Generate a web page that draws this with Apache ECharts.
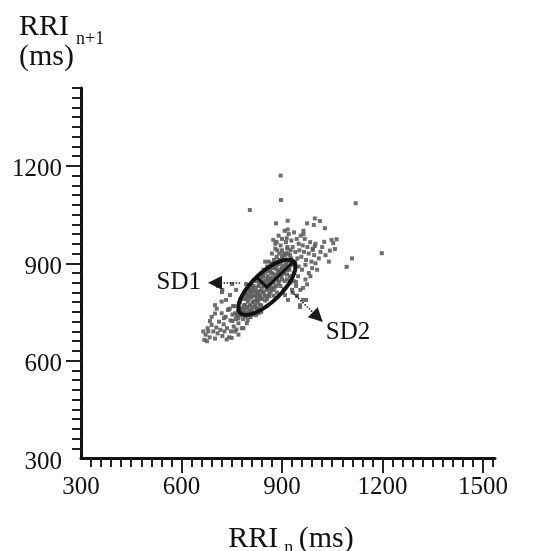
<!DOCTYPE html>
<html>
<head>
<meta charset="utf-8">
<script src="https://cdn.jsdelivr.net/npm/echarts@6/dist/echarts.min.js"></script>
<style>
  html, body { margin: 0; padding: 0; background: #fff; }
  #chart { width: 542px; height: 551px; }
</style>
</head>
<body>
<div id="chart"></div>
<script>
// axis ranges and tick labels
const xMin = 300, xMax = 1536
const yMin = 300, yMax = 1440
const tickStep = 30
const xTickLabels = [300, 600, 900, 1200, 1500]
const yTickLabels = [300, 600, 900, 1200]
const xMajorTicks = [600, 900, 1200, 1500]
const yMajorTicks = [600, 900, 1200]

// RRI(n), RRI(n+1) pairs (ms)
const tailPoints = [
  [668,664],[672,680],[678,700],[684,672],[690,710],[695,690],[700,668],[704,702],[708,684],[712,720],
  [716,695],[720,746],[722,676],[726,712],[728,690],[732,735],[736,700],[740,758],[742,672],[746,724],
  [748,690],[752,742],[756,705],[758,768],[762,728],[764,696],[768,752],[770,715],[774,780],[776,740],
  [780,700],[720,782],[722,818],[744,760],[760,746],[770,680],[785,700],[795,715],[760,690],[750,670],
  [735,665],[690,735],[700,745],[705,760],[685,722],[680,690],[665,690],[676,660]
]
const lowerPoints = [
  [782,760],[784,728],[786,790],[788,748],[790,772],[792,736],[794,805],[796,760],[798,782],[800,745],
  [802,815],[804,770],[806,734],[808,795],[810,758],[812,780],[814,822],[816,748],[818,800],[820,770],
  [822,740],[824,812],[826,786],[828,760],[830,830],[832,798],[834,772],[836,815],[838,750],[840,840],
  [786,770],[792,790],[798,725],[806,808],[812,742],[818,784],[824,762],[830,746],[770,730],[776,762],
  [764,740],[752,722],[810,825],[800,800],[796,740],[822,800],[834,790],[828,812],[790,810],[804,752]
]
const leftPoints = [
  [709,830],[721,811],[733,787],[745,802],[754,768],[763,818],[775,787],[784,756],[793,799],[739,756],
  [769,741],[727,731],[751,836],[793,836],[805,818],[700,771]
]
const corePoints = [
  [842,812],[844,858],[846,830],[848,800],[850,872],[852,845],[854,818],[856,890],[858,860],[860,835],
  [862,805],[864,880],[866,850],[868,900],[870,825],[872,868],[874,842],[876,910],[878,885],[880,855],
  [882,830],[884,920],[886,895],[888,870],[890,845],[892,930],[894,905],[896,880],[898,860],[900,940],
  [902,915],[904,890],[906,868],[908,845],[910,925],[912,900],[914,878],[916,950],[918,930],[920,905],
  [922,882],[924,860],[926,940],[928,915],[930,895],[845,880],[855,790],[865,820],[875,800],[885,810],
  [895,830],[905,820],[915,850],[925,840],[935,870],[860,905],[870,930],[880,945],[850,905],[840,870],
  [800,790],[810,800],[820,815],[830,805],[840,825],[850,835],[860,845],[870,855],[880,865],[890,875],
  [900,885],[910,895],[905,870],[895,860],[885,850],[875,840],[865,830],[855,820],[845,810],[835,800],
  [825,790],[815,780],[805,770],[795,765],[815,830],[825,845],[835,855],[845,862],[860,875],[870,885],
  [880,897],[890,910],[900,920],[912,930],[920,880],[915,865],[900,850],[890,838],[878,825],[866,812],
  [852,800],[840,790],[828,778],[816,765],[806,755],[798,748],[842,845],[856,852],[868,870],[884,882],
  [896,898],[874,818],[862,798],[850,785],[838,770],[826,755],[812,812],[822,825],[832,838],[818,848],
  [808,835]
]
const upperPoints = [
  [880,960],[886,940],[890,985],[896,955],[900,975],[904,930],[908,1000],[912,965],[916,945],[920,990],
  [924,925],[928,970],[932,950],[936,995],[940,935],[944,975],[946,915],[950,960],[952,940],[956,985],
  [958,920],[962,955],[966,935],[968,975],[972,910],[976,950],[980,930],[984,965],[988,905],[992,945],
  [996,925],[1000,960],[940,905],[950,890],[960,880],[970,895],[980,870],[990,885],[1000,900],[1010,915],
  [1015,935],[1020,950],[1030,925],[1040,905],[1005,880]
]
const rightPoints = [
  [935,845],[942,830],[948,860],[955,818],[963,824],[954,765],[963,787],[970,850],[975,835],[985,860],
  [945,800],[932,810],[930,818],[945,799],[972,787],[954,771],[942,842],[918,787],[909,802]
]
const outlierPoints = [
  [896,1170],[897,1095],[804,1064],[1120,1085],[1198,931],[1109,915],[882,1023],[917,1031],[917,1004],
  [975,1023],[998,1038],[1013,1030],[995,1018],[1028,1008],[964,1000],[964,990],[1026,966],[1048,972],
  [1063,974],[1053,962],[1043,939],[1058,944],[998,953],[992,941],[874,972],[884,966],[914,977],[1093,889]
]

// Poincare ellipse: centre, SD1, SD2 (ms)
const ellipseCenter = [855, 826]
const sd1 = 44
const sd2 = 112
// annotation arrows (ms)
const sd1Arrow = [[775, 840], [700, 840]]
const sd2Arrow = [[929, 812], [1007, 734]]

const serif = "'Liberation Serif', 'Times New Roman', serif"

const ticksFrom = (min, max) => {
  const out = []
  for (let v = min + tickStep; v <= max; v += tickStep) out.push(v)
  return out
}

const chart = echarts.init(document.getElementById('chart'))

// main plot box; a second copy carries the long ticks, a third (same scale, nudged down) the y labels
const gridBox = { left: 81, right: 47, top: 88, bottom: 93, outerBoundsMode: 'none' }
const labelBox = { left: 81, right: 47, top: 92, bottom: 85.75, outerBoundsMode: 'none' }
const labelMin = 290

const tickStyle = { color: '#222', width: 2 }
const labelFont = { fontSize: 25, fontFamily: serif, color: '#111' }

const option = {
  animation: false,
  backgroundColor: '#fff',
  title: {
    text: '{a|RRI}{s|n+1}\n{a|(ms)}',
    left: 14,
    top: 7,
    textStyle: {
      fontWeight: 'normal',
      rich: {
        a: { fontSize: 30, lineHeight: 30, fontFamily: serif, fontWeight: 'normal', color: '#111', verticalAlign: 'top' },
        s: { fontSize: 18, lineHeight: 18, fontFamily: serif, fontWeight: 'normal', color: '#111', padding: [18, 0, 0, 7], verticalAlign: 'top' },
      },
    },
  },
  grid: [gridBox, gridBox, labelBox],
  xAxis: [
    {
      gridIndex: 0, type: 'value', min: xMin, max: xMax,
      axisLine: { show: true, onZero: false, lineStyle: { color: '#111', width: 3 } },
      axisTick: { show: true, customValues: ticksFrom(xMin, xMax), length: 9, lineStyle: tickStyle },
      axisLabel: { customValues: xTickLabels, margin: 17, ...labelFont, formatter: (v) => String(v) },
      splitLine: { show: false },
      name: '{a|RRI}{s|n} {a|(ms)}',
      nameLocation: 'middle',
      nameGap: 66,
      nameTextStyle: {
        padding: [0, 0, 0, 6],
        rich: {
          a: { fontSize: 30, lineHeight: 30, fontFamily: serif, color: '#111', verticalAlign: 'top' },
          s: { fontSize: 18, lineHeight: 18, fontFamily: serif, color: '#111', padding: [15, 2, 0, 6], verticalAlign: 'top' },
        },
      },
    },
    {
      gridIndex: 1, type: 'value', min: xMin, max: xMax,
      axisLine: { show: false },
      axisTick: { show: true, customValues: xMajorTicks, length: 15, lineStyle: tickStyle },
      axisLabel: { show: false },
      splitLine: { show: false },
    },
    { gridIndex: 2, type: 'value', min: xMin, max: xMax, show: false },
  ],
  yAxis: [
    {
      gridIndex: 0, type: 'value', min: yMin, max: yMax,
      axisLine: { show: true, onZero: false, lineStyle: { color: '#111', width: 3 } },
      axisTick: { show: true, customValues: ticksFrom(yMin, yMax), length: 9, lineStyle: tickStyle },
      axisLabel: { show: false },
      splitLine: { show: false },
    },
    {
      gridIndex: 1, type: 'value', min: yMin, max: yMax,
      axisLine: { show: false },
      axisTick: { show: true, customValues: yMajorTicks, length: 15, lineStyle: tickStyle },
      axisLabel: { show: false },
      splitLine: { show: false },
    },
    {
      gridIndex: 2, type: 'value', min: labelMin, max: yMax,
      axisLine: { show: false },
      axisTick: { show: false },
      axisLabel: {
        customValues: yTickLabels, margin: 19, ...labelFont,
        formatter: (v) => String(v),
      },
      splitLine: { show: false },
    },
  ],
  series: [
    {
      type: 'scatter',
      xAxisIndex: 0, yAxisIndex: 0,
      symbol: 'rect',
      symbolSize: 4,
      itemStyle: { color: '#5e5e5e', opacity: 0.9 },
      data: [...tailPoints, ...lowerPoints, ...leftPoints, ...corePoints, ...upperPoints, ...rightPoints, ...outlierPoints],
      markLine: {
        silent: true,
        symbol: ['none', 'triangle'],
        symbolSize: 14,
        lineStyle: { color: '#1a1a1a', width: 1.5, type: 'dotted' },
        label: { show: true, position: 'end', ...labelFont },
        data: [
          [
            { coord: sd1Arrow[0], label: { formatter: 'SD1', distance: [14, 0] } },
            { coord: sd1Arrow[1] },
          ],
          [
            { coord: sd2Arrow[0], label: { formatter: 'SD2', distance: [42, 22] } },
            { coord: sd2Arrow[1] },
          ],
        ],
      },
    },
    {
      type: 'custom',
      xAxisIndex: 0, yAxisIndex: 0,
      z: 5,
      data: [[ellipseCenter[0], ellipseCenter[1], sd1, sd2]],
      encode: { x: 0, y: 1 },
      renderItem: (params, api) => {
        const cx = api.value(0), cy = api.value(1)
        const b = api.value(2), a = api.value(3)
        const r = Math.SQRT1_2
        const pts = []
        for (let i = 0; i <= 90; i++) {
          const t = (i / 90) * 2 * Math.PI
          const along = a * Math.cos(t), across = b * Math.sin(t)
          pts.push(api.coord([cx + (along - across) * r, cy + (along + across) * r]))
        }
        const c = api.coord([cx, cy])
        const minorEnd = api.coord([cx - b * r, cy + b * r])
        const majorEnd = api.coord([cx + a * r, cy + a * r])
        return {
          type: 'group',
          children: [
            { type: 'polygon', shape: { points: pts }, style: { fill: 'none', stroke: '#111', lineWidth: 4 } },
            { type: 'polyline', shape: { points: [minorEnd, c, majorEnd] }, style: { fill: 'none', stroke: '#111', lineWidth: 3 } },
          ],
        }
      },
    },
  ],
}

chart.setOption(option)
</script>
</body>
</html>
